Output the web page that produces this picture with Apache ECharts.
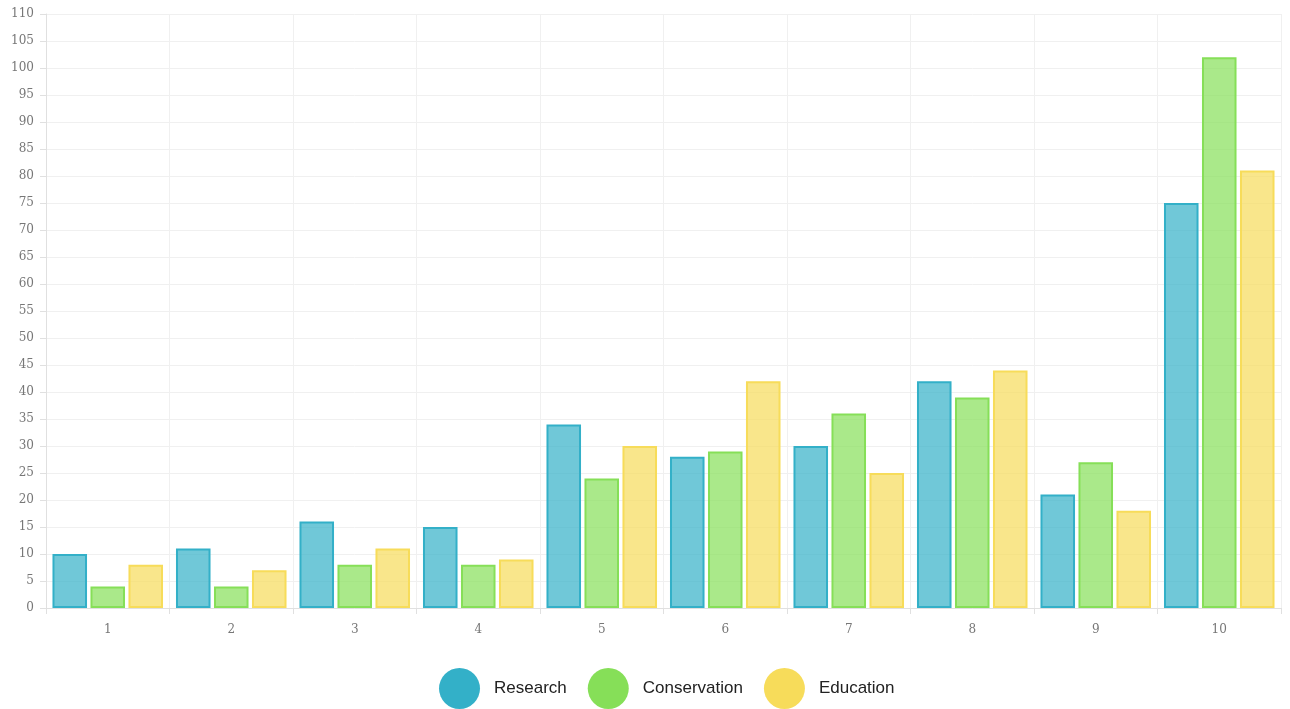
<!DOCTYPE html>
<html>
<head>
<meta charset="utf-8">
<script src="https://cdn.jsdelivr.net/npm/echarts@6/dist/echarts.min.js"></script>
<style>
html,body{margin:0;padding:0;background:#fff;}
#chart{width:1290px;height:709px;}
</style>
</head>
<body>
<div id="chart"></div>
<script>
const categories = ['1','2','3','4','5','6','7','8','9','10'];
const research = [10, 11, 16, 15, 34, 28, 30, 42, 21, 75];
const conservation = [4, 4, 8, 8, 24, 29, 36, 39, 27, 102];
const education = [8, 7, 11, 9, 30, 42, 25, 44, 18, 81];
const seriesNames = ['Research', 'Conservation', 'Education'];
const colors = ['#33b0c8', '#86df58', '#f7dc5a'];
const fills = ['rgba(51,176,200,0.7)', 'rgba(134,223,88,0.7)', 'rgba(247,220,90,0.7)'];

const chart = echarts.init(document.getElementById('chart'));
const axisFont = {fontFamily: 'DejaVu Serif', fontSize: 12, color: '#777'};
const data = [research, conservation, education];
chart.setOption({
  animation: false,
  grid: {left: 46, right: 9, top: 14, bottom: 101},
  legend: {
    top: 663,
    left: 434,
    icon: 'circle',
    itemWidth: 41,
    itemHeight: 41,
    itemGap: 21,
    textStyle: {fontFamily: 'Liberation Sans', fontSize: 17, color: '#222', padding: [0, 0, 0, 9]},
    data: seriesNames.map((n, i) => ({name: n, itemStyle: {color: colors[i], borderWidth: 0}}))
  },
  xAxis: {
    type: 'category',
    data: categories,
    axisLine: {show: true, lineStyle: {color: '#e0e0e0'}},
    axisTick: {show: true, length: 6, lineStyle: {color: '#e0e0e0'}},
    axisLabel: Object.assign({margin: 16}, axisFont),
    splitLine: {show: true, lineStyle: {color: '#f0f0f0'}}
  },
  yAxis: {
    type: 'value',
    min: 0, max: 110, interval: 5,
    axisLine: {show: true, lineStyle: {color: '#e0e0e0'}},
    axisTick: {show: true, length: 6, lineStyle: {color: '#e0e0e0'}},
    axisLabel: Object.assign({margin: 12}, axisFont),
    splitLine: {show: true, lineStyle: {color: '#f0f0f0'}}
  },
  series: seriesNames.map((n, i) => ({
    name: n,
    type: 'bar',
    data: data[i],
    barCategoryGap: '10.5%',
    barGap: '10%',
    itemStyle: {color: fills[i], borderColor: colors[i], borderWidth: 2}
  }))
});
</script>
</body>
</html>
